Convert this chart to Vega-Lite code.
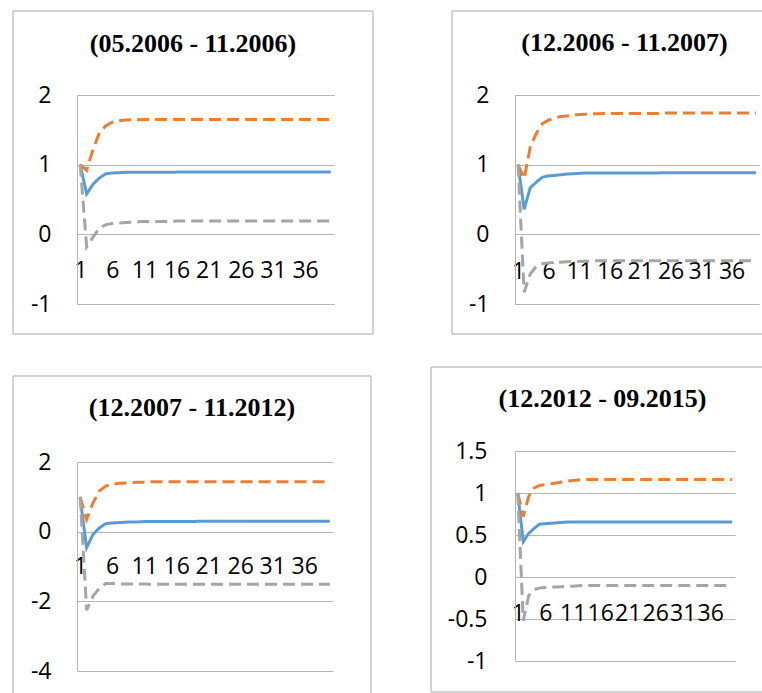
{
  "$schema": "https://vega.github.io/schema/vega-lite/v6.json",
  "padding": {"left": 12, "top": 10, "right": 0, "bottom": 0},
  "background": "white",
  "config": {
    "view": {"stroke": null},
    "axis": {"labelFont": "Open Sans", "labelFontSize": 23, "labelColor": "#000000", "gridColor": "#b4b4b4", "domainColor": "#b4b4b4", "gridWidth": 1, "domainWidth": 1, "labelOverlap": false, "labelFlush": false, "labelBound": false},
    "title": {"font": "Liberation Serif", "fontSize": 26, "fontWeight": "bold", "color": "#000000", "frame": "bounds", "anchor": "middle", "baseline": "alphabetic"}
  },
  "datasets": {
    "p1": [
      {"t":1,"est":1,"up":1,"lo":1},{"t":2,"est":0.58,"up":0.92,"lo":-0.18},{"t":3,"est":0.72,"up":1.22,"lo":-0.04},{"t":4,"est":0.81,"up":1.46,"lo":0.09},{"t":5,"est":0.87,"up":1.56,"lo":0.14},{"t":6,"est":0.88,"up":1.61,"lo":0.155},{"t":7,"est":0.885,"up":1.63,"lo":0.16},{"t":8,"est":0.89,"up":1.64,"lo":0.17},{"t":9,"est":0.89,"up":1.645,"lo":0.175},{"t":10,"est":0.89,"up":1.645,"lo":0.18},
      {"t":11,"est":0.892,"up":1.65,"lo":0.185},{"t":12,"est":0.892,"up":1.65,"lo":0.185},{"t":13,"est":0.892,"up":1.65,"lo":0.185},{"t":14,"est":0.892,"up":1.65,"lo":0.185},{"t":15,"est":0.892,"up":1.65,"lo":0.185},{"t":16,"est":0.893,"up":1.65,"lo":0.19},{"t":17,"est":0.893,"up":1.65,"lo":0.19},{"t":18,"est":0.893,"up":1.65,"lo":0.19},{"t":19,"est":0.893,"up":1.65,"lo":0.19},{"t":20,"est":0.893,"up":1.65,"lo":0.19},
      {"t":21,"est":0.893,"up":1.65,"lo":0.19},{"t":22,"est":0.893,"up":1.65,"lo":0.19},{"t":23,"est":0.893,"up":1.65,"lo":0.19},{"t":24,"est":0.893,"up":1.65,"lo":0.19},{"t":25,"est":0.893,"up":1.65,"lo":0.19},{"t":26,"est":0.893,"up":1.65,"lo":0.19},{"t":27,"est":0.893,"up":1.65,"lo":0.19},{"t":28,"est":0.893,"up":1.65,"lo":0.19},{"t":29,"est":0.893,"up":1.65,"lo":0.19},{"t":30,"est":0.893,"up":1.65,"lo":0.19},
      {"t":31,"est":0.893,"up":1.65,"lo":0.19},{"t":32,"est":0.893,"up":1.65,"lo":0.19},{"t":33,"est":0.893,"up":1.65,"lo":0.19},{"t":34,"est":0.893,"up":1.65,"lo":0.19},{"t":35,"est":0.893,"up":1.65,"lo":0.19},{"t":36,"est":0.893,"up":1.65,"lo":0.19},{"t":37,"est":0.893,"up":1.65,"lo":0.19},{"t":38,"est":0.893,"up":1.65,"lo":0.19},{"t":39,"est":0.893,"up":1.65,"lo":0.19},{"t":40,"est":0.893,"up":1.65,"lo":0.19}
    ],
    "p2": [
      {"t":1,"est":1,"up":1,"lo":1},{"t":2,"est":0.36,"up":0.8,"lo":-0.83},{"t":3,"est":0.67,"up":1.25,"lo":-0.57},{"t":4,"est":0.75,"up":1.45,"lo":-0.46},{"t":5,"est":0.82,"up":1.59,"lo":-0.42},{"t":6,"est":0.84,"up":1.64,"lo":-0.41},{"t":7,"est":0.845,"up":1.67,"lo":-0.4},{"t":8,"est":0.855,"up":1.69,"lo":-0.4},{"t":9,"est":0.865,"up":1.7,"lo":-0.395},{"t":10,"est":0.87,"up":1.71,"lo":-0.39},
      {"t":11,"est":0.875,"up":1.72,"lo":-0.39},{"t":12,"est":0.88,"up":1.725,"lo":-0.385},{"t":13,"est":0.88,"up":1.73,"lo":-0.385},{"t":14,"est":0.88,"up":1.73,"lo":-0.38},{"t":15,"est":0.882,"up":1.735,"lo":-0.38},{"t":16,"est":0.882,"up":1.735,"lo":-0.38},{"t":17,"est":0.882,"up":1.735,"lo":-0.38},{"t":18,"est":0.882,"up":1.735,"lo":-0.38},{"t":19,"est":0.882,"up":1.735,"lo":-0.38},{"t":20,"est":0.882,"up":1.735,"lo":-0.38},
      {"t":21,"est":0.882,"up":1.735,"lo":-0.38},{"t":22,"est":0.882,"up":1.735,"lo":-0.38},{"t":23,"est":0.882,"up":1.735,"lo":-0.38},{"t":24,"est":0.882,"up":1.735,"lo":-0.38},{"t":25,"est":0.885,"up":1.74,"lo":-0.38},{"t":26,"est":0.885,"up":1.74,"lo":-0.38},{"t":27,"est":0.885,"up":1.74,"lo":-0.38},{"t":28,"est":0.885,"up":1.74,"lo":-0.38},{"t":29,"est":0.885,"up":1.74,"lo":-0.38},{"t":30,"est":0.885,"up":1.74,"lo":-0.38},
      {"t":31,"est":0.885,"up":1.74,"lo":-0.38},{"t":32,"est":0.885,"up":1.74,"lo":-0.38},{"t":33,"est":0.885,"up":1.74,"lo":-0.38},{"t":34,"est":0.885,"up":1.74,"lo":-0.38},{"t":35,"est":0.885,"up":1.74,"lo":-0.38},{"t":36,"est":0.885,"up":1.74,"lo":-0.38},{"t":37,"est":0.885,"up":1.74,"lo":-0.38},{"t":38,"est":0.885,"up":1.74,"lo":-0.38},{"t":39,"est":0.885,"up":1.74,"lo":-0.38},{"t":40,"est":0.885,"up":1.74,"lo":-0.38}
    ],
    "p3": [
      {"t":1,"est":0.95,"up":1,"lo":1},{"t":2,"est":-0.46,"up":0.35,"lo":-2.25},{"t":3,"est":-0.08,"up":0.83,"lo":-1.85},{"t":4,"est":0.11,"up":1.17,"lo":-1.62},{"t":5,"est":0.23,"up":1.31,"lo":-1.49},{"t":6,"est":0.25,"up":1.36,"lo":-1.49},{"t":7,"est":0.26,"up":1.39,"lo":-1.5},{"t":8,"est":0.27,"up":1.4,"lo":-1.5},{"t":9,"est":0.28,"up":1.41,"lo":-1.5},{"t":10,"est":0.28,"up":1.42,"lo":-1.5},
      {"t":11,"est":0.29,"up":1.42,"lo":-1.505},{"t":12,"est":0.29,"up":1.43,"lo":-1.51},{"t":13,"est":0.29,"up":1.43,"lo":-1.51},{"t":14,"est":0.29,"up":1.43,"lo":-1.51},{"t":15,"est":0.295,"up":1.43,"lo":-1.51},{"t":16,"est":0.295,"up":1.43,"lo":-1.51},{"t":17,"est":0.295,"up":1.43,"lo":-1.51},{"t":18,"est":0.295,"up":1.43,"lo":-1.51},{"t":19,"est":0.295,"up":1.43,"lo":-1.51},{"t":20,"est":0.3,"up":1.43,"lo":-1.51},
      {"t":21,"est":0.3,"up":1.43,"lo":-1.51},{"t":22,"est":0.3,"up":1.43,"lo":-1.51},{"t":23,"est":0.3,"up":1.43,"lo":-1.51},{"t":24,"est":0.3,"up":1.43,"lo":-1.51},{"t":25,"est":0.3,"up":1.43,"lo":-1.51},{"t":26,"est":0.3,"up":1.43,"lo":-1.51},{"t":27,"est":0.3,"up":1.43,"lo":-1.51},{"t":28,"est":0.3,"up":1.43,"lo":-1.51},{"t":29,"est":0.3,"up":1.43,"lo":-1.51},{"t":30,"est":0.3,"up":1.43,"lo":-1.51},
      {"t":31,"est":0.3,"up":1.43,"lo":-1.51},{"t":32,"est":0.3,"up":1.43,"lo":-1.51},{"t":33,"est":0.3,"up":1.43,"lo":-1.51},{"t":34,"est":0.3,"up":1.43,"lo":-1.51},{"t":35,"est":0.3,"up":1.43,"lo":-1.51},{"t":36,"est":0.3,"up":1.43,"lo":-1.51},{"t":37,"est":0.3,"up":1.43,"lo":-1.51},{"t":38,"est":0.3,"up":1.43,"lo":-1.51},{"t":39,"est":0.3,"up":1.43,"lo":-1.51},{"t":40,"est":0.3,"up":1.43,"lo":-1.51}
    ],
    "p4": [
      {"t":1,"est":1,"up":1,"lo":1},{"t":2,"est":0.42,"up":0.72,"lo":-0.52},{"t":3,"est":0.52,"up":0.96,"lo":-0.22},{"t":4,"est":0.58,"up":1.06,"lo":-0.15},{"t":5,"est":0.63,"up":1.09,"lo":-0.13},{"t":6,"est":0.635,"up":1.1,"lo":-0.125},{"t":7,"est":0.64,"up":1.11,"lo":-0.12},{"t":8,"est":0.645,"up":1.12,"lo":-0.12},{"t":9,"est":0.65,"up":1.13,"lo":-0.115},{"t":10,"est":0.655,"up":1.14,"lo":-0.11},
      {"t":11,"est":0.655,"up":1.15,"lo":-0.11},{"t":12,"est":0.655,"up":1.155,"lo":-0.105},{"t":13,"est":0.655,"up":1.16,"lo":-0.1},{"t":14,"est":0.655,"up":1.16,"lo":-0.1},{"t":15,"est":0.655,"up":1.16,"lo":-0.1},{"t":16,"est":0.655,"up":1.16,"lo":-0.1},{"t":17,"est":0.655,"up":1.16,"lo":-0.1},{"t":18,"est":0.655,"up":1.16,"lo":-0.1},{"t":19,"est":0.655,"up":1.16,"lo":-0.1},{"t":20,"est":0.655,"up":1.16,"lo":-0.1},
      {"t":21,"est":0.655,"up":1.16,"lo":-0.1},{"t":22,"est":0.655,"up":1.16,"lo":-0.1},{"t":23,"est":0.655,"up":1.16,"lo":-0.1},{"t":24,"est":0.655,"up":1.16,"lo":-0.1},{"t":25,"est":0.655,"up":1.16,"lo":-0.1},{"t":26,"est":0.655,"up":1.16,"lo":-0.1},{"t":27,"est":0.655,"up":1.16,"lo":-0.1},{"t":28,"est":0.655,"up":1.16,"lo":-0.1},{"t":29,"est":0.655,"up":1.16,"lo":-0.1},{"t":30,"est":0.655,"up":1.16,"lo":-0.1},
      {"t":31,"est":0.655,"up":1.16,"lo":-0.1},{"t":32,"est":0.655,"up":1.16,"lo":-0.1},{"t":33,"est":0.655,"up":1.16,"lo":-0.1},{"t":34,"est":0.655,"up":1.16,"lo":-0.1},{"t":35,"est":0.655,"up":1.16,"lo":-0.1},{"t":36,"est":0.655,"up":1.16,"lo":-0.1},{"t":37,"est":0.655,"up":1.16,"lo":-0.1},{"t":38,"est":0.655,"up":1.16,"lo":-0.1},{"t":39,"est":0.655,"up":1.16,"lo":-0.1},{"t":40,"est":0.655,"up":1.16,"lo":-0.1}
    ]
  },
  "hconcat": [
    {
      "spacing": 40,
      "vconcat": [
        {
          "width": 257, "height": 209,
          "title": {"text": "(05.2006 - 11.2006)", "offset": -46},
          "layer": [
            {"data": {"name": "p1"}, "transform": [{"fold": ["est", "up", "lo"], "as": ["series", "v"]}],
             "mark": {"type": "line", "strokeWidth": 3, "strokeCap": "butt"},
             "encoding": {
               "x": {"field": "t", "type": "quantitative", "scale": {"domain": [0.5, 40.5], "nice": false, "zero": false},
                     "axis": {"values": [1, 6, 11, 16, 21, 26, 31, 36], "tickCount": 50, "labelExpr": "datum.value + ''", "offset": -69.67, "domain": false, "ticks": false, "tickSize": 0, "grid": false, "labelPadding": 36, "labelBaseline": "middle", "title": null, "labelOverlap": false, "labelFlush": false, "labelBound": false}},
               "y": {"field": "v", "type": "quantitative", "scale": {"domain": [-1, 2], "nice": false, "zero": false},
                     "axis": {"values": [-1, 0, 1, 2], "tickCount": 20, "labelExpr": "datum.value + ''", "grid": true, "domain": true, "ticks": false, "tickSize": 0, "labelPadding": 26, "title": null, "labelFlush": false, "labelOverlap": false}},
               "color": {"field": "series", "type": "nominal", "scale": {"domain": ["est", "up", "lo"], "range": ["#5B9BD5", "#ED7D31", "#A5A5A5"]}, "legend": null},
               "strokeDash": {"field": "series", "type": "nominal", "scale": {"domain": ["est", "up", "lo"], "range": [[1, 0], [12, 6], [12, 6]]}, "legend": null}
             }},
            {"data": {"values": [{}]}, "mark": {"type": "rect", "fillOpacity": 0, "stroke": "#a6a6a6", "strokeWidth": 1},
             "encoding": {"x": {"datum": -9.461, "type": "quantitative"}, "x2": {"datum": 46.57}, "y": {"datum": 3.2057, "type": "quantitative"}, "y2": {"datum": -1.4306}}}
          ]
        },
        {
          "width": 256, "height": 209,
          "title": {"text": "(12.2007 - 11.2012)", "offset": -46},
          "layer": [
            {"data": {"name": "p3"}, "transform": [{"fold": ["est", "up", "lo"], "as": ["series", "v"]}],
             "mark": {"type": "line", "strokeWidth": 3, "strokeCap": "butt"},
             "encoding": {
               "x": {"field": "t", "type": "quantitative", "scale": {"domain": [0.5, 40.5], "nice": false, "zero": false},
                     "axis": {"values": [1, 6, 11, 16, 21, 26, 31, 36], "tickCount": 50, "labelExpr": "datum.value + ''", "offset": -139.33, "domain": false, "ticks": false, "tickSize": 0, "grid": false, "labelPadding": 35, "labelBaseline": "middle", "title": null, "labelOverlap": false, "labelFlush": false, "labelBound": false}},
               "y": {"field": "v", "type": "quantitative", "scale": {"domain": [-4, 2], "nice": false, "zero": false},
                     "axis": {"values": [-4, -2, 0, 2], "tickCount": 20, "labelExpr": "datum.value + ''", "grid": true, "domain": true, "ticks": false, "tickSize": 0, "labelPadding": 26, "title": null, "labelFlush": false, "labelOverlap": false}},
               "color": {"field": "series", "type": "nominal", "scale": {"domain": ["est", "up", "lo"], "range": ["#5B9BD5", "#ED7D31", "#A5A5A5"]}, "legend": null},
               "strokeDash": {"field": "series", "type": "nominal", "scale": {"domain": ["est", "up", "lo"], "range": [[1, 0], [12, 6], [12, 6]]}, "legend": null}
             }},
            {"data": {"values": [{}]}, "mark": {"type": "rule", "color": "#a6a6a6", "strokeWidth": 1},
             "encoding": {"x": {"datum": -9.5, "type": "quantitative"}, "x2": {"datum": 46.4375}, "y": {"datum": 4.469, "type": "quantitative"}}},
            {"data": {"values": [{}]}, "mark": {"type": "rule", "color": "#a6a6a6", "strokeWidth": 1},
             "encoding": {"x": {"datum": -9.5, "type": "quantitative"}, "y": {"datum": 4.469, "type": "quantitative"}, "y2": {"datum": -4.689}}},
            {"data": {"values": [{}]}, "mark": {"type": "rule", "color": "#a6a6a6", "strokeWidth": 1},
             "encoding": {"x": {"datum": 46.4375, "type": "quantitative"}, "y": {"datum": 4.469, "type": "quantitative"}, "y2": {"datum": -4.689}}}
          ]
        }
      ]
    },
    {
      "spacing": 31,
      "vconcat": [
        {
          "width": 244, "height": 209,
          "title": {"text": "(12.2006 - 11.2007)", "offset": -45, "dx": 6},
          "layer": [
            {"data": {"name": "p2"}, "transform": [{"fold": ["est", "up", "lo"], "as": ["series", "v"]}],
             "mark": {"type": "line", "strokeWidth": 3, "strokeCap": "butt"},
             "encoding": {
               "x": {"field": "t", "type": "quantitative", "scale": {"domain": [0.5, 40.5], "nice": false, "zero": false},
                     "axis": {"values": [1, 6, 11, 16, 21, 26, 31, 36], "tickCount": 50, "labelExpr": "datum.value + ''", "offset": -69.67, "domain": false, "ticks": false, "tickSize": 0, "grid": false, "labelPadding": 37, "labelBaseline": "middle", "title": null, "labelOverlap": false, "labelFlush": false, "labelBound": false}},
               "y": {"field": "v", "type": "quantitative", "scale": {"domain": [-1, 2], "nice": false, "zero": false},
                     "axis": {"values": [-1, 0, 1, 2], "tickCount": 20, "labelExpr": "datum.value + ''", "grid": true, "domain": true, "ticks": false, "tickSize": 0, "labelPadding": 26, "title": null, "labelFlush": false, "labelOverlap": false}},
               "color": {"field": "series", "type": "nominal", "scale": {"domain": ["est", "up", "lo"], "range": ["#5B9BD5", "#ED7D31", "#A5A5A5"]}, "legend": null},
               "strokeDash": {"field": "series", "type": "nominal", "scale": {"domain": ["est", "up", "lo"], "range": [[1, 0], [12, 6], [12, 6]]}, "legend": null}
             }},
            {"data": {"values": [{}]}, "mark": {"type": "rule", "color": "#a6a6a6", "strokeWidth": 1},
             "encoding": {"x": {"datum": -9.828, "type": "quantitative"}, "x2": {"datum": 44.762}, "y": {"datum": 3.2057, "type": "quantitative"}}},
            {"data": {"values": [{}]}, "mark": {"type": "rule", "color": "#a6a6a6", "strokeWidth": 1},
             "encoding": {"x": {"datum": -9.828, "type": "quantitative"}, "y": {"datum": 3.2057, "type": "quantitative"}, "y2": {"datum": -1.4306}}},
            {"data": {"values": [{}]}, "mark": {"type": "rule", "color": "#a6a6a6", "strokeWidth": 1},
             "encoding": {"x": {"datum": -9.828, "type": "quantitative"}, "x2": {"datum": 44.762}, "y": {"datum": -1.4306, "type": "quantitative"}}}
          ]
        },
        {
          "width": 220, "height": 210,
          "title": {"text": "(12.2012 - 09.2015)", "offset": -45, "dx": 5},
          "layer": [
            {"data": {"name": "p4"}, "transform": [{"fold": ["est", "up", "lo"], "as": ["series", "v"]}],
             "mark": {"type": "line", "strokeWidth": 3, "strokeCap": "butt"},
             "encoding": {
               "x": {"field": "t", "type": "quantitative", "scale": {"domain": [0.5, 40.5], "nice": false, "zero": false},
                     "axis": {"values": [1, 6, 11, 16, 21, 26, 31, 36], "tickCount": 50, "labelExpr": "datum.value + ''", "offset": -84, "domain": false, "ticks": false, "tickSize": 0, "grid": false, "labelPadding": 36, "labelBaseline": "middle", "title": null, "labelOverlap": false, "labelFlush": false, "labelBound": false}},
               "y": {"field": "v", "type": "quantitative", "scale": {"domain": [-1, 1.5], "nice": false, "zero": false},
                     "axis": {"values": [-1, -0.5, 0, 0.5, 1, 1.5], "tickCount": 20, "labelExpr": "datum.value + ''", "grid": true, "domain": true, "ticks": false, "tickSize": 0, "labelPadding": 28, "title": null, "labelFlush": false, "labelOverlap": false}},
               "color": {"field": "series", "type": "nominal", "scale": {"domain": ["est", "up", "lo"], "range": ["#5B9BD5", "#ED7D31", "#A5A5A5"]}, "legend": null},
               "strokeDash": {"field": "series", "type": "nominal", "scale": {"domain": ["est", "up", "lo"], "range": [[1, 0], [12, 6], [12, 6]]}, "legend": null}
             }},
            {"data": {"values": [{}]}, "mark": {"type": "rule", "color": "#a6a6a6", "strokeWidth": 1},
             "encoding": {"x": {"datum": -14.773, "type": "quantitative"}, "x2": {"datum": 45.773}, "y": {"datum": 2.5, "type": "quantitative"}}},
            {"data": {"values": [{}]}, "mark": {"type": "rule", "color": "#a6a6a6", "strokeWidth": 1},
             "encoding": {"x": {"datum": -14.773, "type": "quantitative"}, "y": {"datum": 2.5, "type": "quantitative"}, "y2": {"datum": -1.369}}},
            {"data": {"values": [{}]}, "mark": {"type": "rule", "color": "#a6a6a6", "strokeWidth": 1},
             "encoding": {"x": {"datum": -14.773, "type": "quantitative"}, "x2": {"datum": 45.773}, "y": {"datum": -1.369, "type": "quantitative"}}}
          ]
        }
      ]
    }
  ],
  "spacing": 56
}
